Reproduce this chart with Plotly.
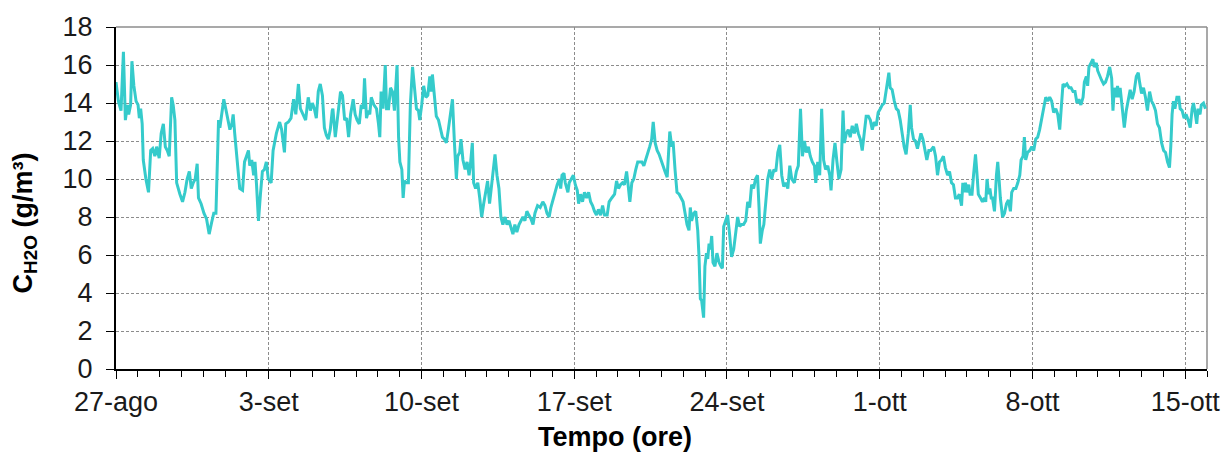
import datetime as dt
import plotly.graph_objects as go

# ---- data (days since 27-ago 00:00, concentration g/m3) ----
days = [
    0.00, 0.11, 0.23, 0.34, 0.43, 0.52, 0.58, 0.67, 0.73, 0.82, 0.92, 1.01, 1.07, 1.13, 1.20, 1.25, 1.37, 1.49,
    1.59, 1.68, 1.78, 1.86, 1.98, 2.07, 2.17, 2.26, 2.35, 2.44, 2.55, 2.62, 2.70, 2.78, 2.93, 3.05, 3.16, 3.26,
    3.36, 3.45, 3.54, 3.63, 3.72, 3.78, 3.90, 4.03, 4.15, 4.27, 4.38, 4.48, 4.58, 4.64, 4.70, 4.76, 4.85, 4.94,
    5.03, 5.12, 5.22, 5.31, 5.37, 5.44, 5.52, 5.61, 5.67, 5.80, 5.89, 5.98, 6.07, 6.13, 6.22, 6.31, 6.37, 6.44,
    6.53, 6.62, 6.71, 6.80, 6.89, 6.98, 7.11, 7.20, 7.35, 7.50, 7.59, 7.72, 7.78, 7.90, 8.02, 8.14, 8.24, 8.36,
    8.45, 8.57, 8.69, 8.81, 8.91, 9.00, 9.09, 9.18, 9.27, 9.36, 9.46, 9.55, 9.64, 9.73, 9.82, 9.91,
    9.94, 10.05, 10.17, 10.29, 10.38, 10.48, 10.57, 10.66, 10.75, 10.87, 10.96, 11.05, 11.15, 11.24, 11.33, 11.39,
    11.48, 11.57, 11.63, 11.70, 11.82, 11.94, 12.03, 12.09, 12.15, 12.24, 12.34, 12.40, 12.49, 12.58, 12.67, 12.76,
    12.88, 12.95, 13.01, 13.10, 13.16, 13.22, 13.31, 13.40, 13.49, 13.59, 13.68, 13.77, 13.86, 13.92, 14.01, 14.10,
    14.20, 14.29, 14.38, 14.44, 14.50, 14.59, 14.68, 14.78, 14.87, 14.96, 15.05, 15.14, 15.23, 15.32, 15.42, 15.51,
    15.60, 15.66, 15.75, 15.81, 15.90, 16.00, 16.09, 16.18, 16.24, 16.33, 16.39, 16.48, 16.58, 16.67, 16.76, 16.85,
    16.94, 17.03, 17.12, 17.22, 17.28, 17.37, 17.46, 17.55, 17.64, 17.73, 17.83, 17.92, 18.01, 18.10, 18.19, 18.28,
    18.37, 18.47, 18.56, 18.65, 18.74, 18.83, 18.92, 19.02, 19.11, 19.20, 19.32, 19.44, 19.56, 19.66, 19.75, 19.85,
    19.93, 20.04, 20.13, 20.22, 20.32, 20.38, 20.44, 20.53, 20.59, 20.65, 20.71, 20.77, 20.86, 20.96, 21.05, 21.14,
    21.20, 21.29, 21.38, 21.47, 21.57, 21.66, 21.75, 21.84, 21.93, 22.02, 22.11, 22.21, 22.30, 22.39, 22.51, 22.60,
    22.72, 22.85, 22.94, 23.03, 23.12, 23.21, 23.30, 23.40, 23.46, 23.55, 23.64, 23.73, 23.82, 23.91, 24.01, 24.10,
    24.19, 24.28, 24.37, 24.46, 24.55, 24.62, 24.71, 24.80, 24.89, 24.98, 25.07, 25.16, 25.26, 25.32, 25.38, 25.47,
    25.53, 25.62, 25.71, 25.81, 25.90, 25.99, 26.08, 26.17, 26.26, 26.32, 26.38, 26.48, 26.57, 26.66, 26.72, 26.78,
    26.84, 26.93, 26.99, 27.06, 27.12, 27.18, 27.24, 27.30, 27.36, 27.45, 27.54, 27.64, 27.73, 27.79, 27.85, 27.94,
    28.03, 28.12, 28.21, 28.31, 28.40, 28.49, 28.58, 28.67, 28.76, 28.86, 28.95, 29.04, 29.13, 29.22, 29.31, 29.40,
    29.47, 29.53, 29.62, 29.69,
    29.78, 29.87, 29.96, 30.05, 30.15, 30.24, 30.33, 30.42, 30.51, 30.60, 30.69, 30.79, 30.88, 30.97, 31.09, 31.18,
    31.27, 31.37, 31.46, 31.55, 31.64, 31.73, 31.82, 31.91, 32.01, 32.07, 32.16, 32.25, 32.34, 32.43, 32.52, 32.62,
    32.71, 32.77, 32.86, 32.95, 33.04, 33.13, 33.23, 33.32, 33.38, 33.47, 33.56, 33.65, 33.74, 33.84, 33.93, 34.02,
    34.11, 34.20, 34.29, 34.38, 34.48, 34.57, 34.66, 34.75, 34.84, 34.93, 35.03, 35.12, 35.21, 35.30, 35.36, 35.42,
    35.48, 35.57, 35.67, 35.76, 35.85, 35.94, 36.03, 36.12, 36.21, 36.31, 36.40, 36.46, 36.55, 36.64, 36.73, 36.82,
    36.89, 36.98, 37.07, 37.16, 37.25, 37.34, 37.47, 37.56, 37.65, 37.74, 37.83, 37.92, 38.01, 38.11, 38.20, 38.29,
    38.38, 38.47, 38.56, 38.65, 38.75, 38.81, 38.87, 38.93, 38.99, 39.08, 39.14, 39.23, 39.30, 39.39, 39.45, 39.52,
    39.62, 39.71, 39.80, 39.86, 39.92, 39.99, 40.05, 40.11, 40.17, 40.26, 40.35, 40.41, 40.47, 40.53, 40.63, 40.72,
    40.81, 40.90, 40.99, 41.05, 41.14, 41.24, 41.33, 41.42, 41.48, 41.57, 41.63, 41.69, 41.78, 41.88, 41.97, 42.06,
    42.15, 42.24, 42.33, 42.43, 42.52, 42.61, 42.70, 42.79, 42.88, 42.97, 43.07, 43.16, 43.25, 43.31, 43.40, 43.49,
    43.58, 43.68, 43.77, 43.86, 43.95, 44.04, 44.13, 44.22, 44.32, 44.38, 44.47, 44.53, 44.59, 44.68, 44.77, 44.83,
    44.93, 44.99, 45.08, 45.17, 45.26, 45.35, 45.44, 45.54, 45.63, 45.69, 45.75, 45.84, 45.90, 45.96, 46.02, 46.12,
    46.21, 46.30, 46.39, 46.48, 46.57, 46.66, 46.76, 46.85, 46.91, 47.00, 47.09, 47.18, 47.27, 47.37, 47.46, 47.55,
    47.64, 47.73, 47.82, 47.92, 48.01, 48.10, 48.19, 48.28, 48.34, 48.40, 48.46, 48.53, 48.62, 48.71, 48.77, 48.86,
    48.95, 49.04, 49.14, 49.23, 49.32, 49.38, 49.44, 49.53, 49.59, 49.68, 49.74, 49.84, 49.93,
]
conc = [
    15.1, 14.1, 13.6, 16.7, 13.1, 13.9, 13.4, 13.9, 16.2, 14.9, 14.1, 13.9, 13.2, 13.7, 12.9, 11.0, 10.0, 9.3,
    11.5, 11.6, 11.2, 11.7, 11.1, 12.4, 12.9, 11.7, 11.5, 11.2, 14.3, 13.9, 13.1, 9.8, 9.2, 8.8, 9.3, 10.0,
    10.4, 9.5, 9.8, 10.0, 10.8, 9.0, 8.7, 8.2, 7.9, 7.1, 7.7, 8.2, 8.2, 11.2, 13.1, 12.7, 13.4, 14.2,
    13.7, 13.2, 12.6, 12.9, 13.4, 12.4, 11.5, 10.2, 9.5, 9.4, 10.9, 11.2, 11.5, 10.7, 11.0, 10.2, 10.9, 9.7,
    7.8, 9.2, 10.4, 10.5, 10.9, 10.0, 9.8, 11.5, 12.4, 13.0, 12.6, 11.4, 12.9, 13.0, 13.2, 14.2, 13.4, 15.0,
    13.7, 13.4, 13.1, 14.3, 13.6, 14.0, 13.7, 13.2, 14.6, 15.0, 14.4, 12.7, 12.3, 12.1, 12.6, 13.6,
    13.7, 12.2, 13.4, 14.6, 14.4, 13.1, 13.2, 12.2, 13.4, 14.2, 13.4, 13.1, 12.9, 13.9, 13.7, 15.3,
    13.2, 13.6, 13.4, 14.3, 13.9, 13.7, 12.9, 12.2, 14.6, 13.7, 16.0, 13.7, 13.7, 14.8, 14.6, 13.6,
    16.0, 12.2, 10.9, 10.5, 9.0, 9.9, 9.8, 9.8, 13.9, 15.9, 14.8, 13.7, 13.6, 13.1, 13.9, 14.9,
    14.3, 14.4, 15.4, 14.6, 15.5, 14.3, 13.3, 13.1, 12.6, 12.2, 12.1, 11.9, 12.6, 13.4, 14.2, 11.9,
    10.0, 11.2, 11.4, 12.1, 11.0, 10.5, 10.9, 10.2, 10.7, 11.9, 9.8, 9.5, 9.8, 9.0, 8.0, 8.7,
    9.3, 9.9, 8.7, 9.7, 10.5, 11.3, 10.2, 9.5, 8.0, 7.6, 8.0, 7.6, 7.8, 7.5, 7.1, 7.6,
    7.2, 7.6, 7.8, 8.0, 7.8, 8.3, 8.1, 7.9, 7.6, 8.2, 8.6, 8.5, 8.8, 8.6, 8.2, 8.0,
    8.5, 9.0, 9.4, 9.7, 10.0, 9.5, 10.2, 10.3, 9.8, 9.5, 9.3, 9.8, 10.0, 10.2, 9.7, 9.4,
    8.7, 9.2, 8.8, 9.3, 9.0, 9.3, 8.8, 8.6, 8.3, 8.1, 8.4, 8.1, 8.6, 8.1, 8.1, 8.8,
    9.0, 9.2, 9.9, 9.5, 9.7, 9.8, 9.7, 10.4, 9.8, 8.8, 9.8, 10.0, 10.5, 10.9, 10.9, 10.9,
    10.7, 11.0, 11.4, 11.7, 12.1, 13.0, 11.9, 11.5, 11.3, 11.0, 10.6, 10.4, 10.1, 11.5, 12.5, 11.7,
    12.0, 10.5, 9.3, 9.2, 9.0, 8.8, 8.2, 7.6, 7.3, 8.5, 7.8, 8.2, 8.3, 7.3, 5.9, 3.7,
    3.6, 2.7, 5.4, 6.1, 5.8, 6.6, 6.3, 7.0, 5.6, 5.4, 6.1, 5.6, 5.4, 5.3, 7.5, 7.8,
    8.1, 7.1, 5.9, 6.3, 7.3, 8.0, 7.5, 7.6, 7.6, 7.8, 8.8, 8.5, 9.7, 9.5, 10.0, 10.2,
    8.5, 6.6, 7.3, 7.6,
    8.8, 10.0, 10.5, 10.0, 10.5, 10.4, 11.4, 11.8, 10.2, 9.6, 9.8, 9.5, 10.7, 10.0, 9.8, 10.4,
    10.7, 13.7, 11.2, 12.0, 11.4, 11.7, 11.2, 10.9, 10.7, 9.8, 10.9, 10.2, 13.7, 11.0, 10.5, 10.7,
    10.2, 9.4, 11.0, 11.9, 10.9, 10.0, 10.5, 13.6, 11.9, 12.4, 12.6, 12.2, 12.8, 12.4, 12.9, 12.4,
    12.1, 11.5, 12.4, 13.3, 13.3, 13.1, 12.6, 13.0, 12.8, 13.5, 13.7, 13.9, 14.0, 14.8, 15.1, 15.6,
    14.8, 14.7, 14.1, 13.7, 13.6, 13.1, 12.4, 11.7, 11.3, 12.4, 13.9, 12.7, 12.1, 12.0, 11.6, 12.1,
    12.4, 12.1, 11.5, 11.0, 11.5, 11.5, 11.7, 11.2, 10.2, 10.9, 11.0, 11.2, 10.6, 10.2, 10.4, 9.8,
    9.7, 9.0, 9.0, 9.2, 8.6, 9.8, 9.3, 9.8, 9.3, 9.7, 9.2, 9.2, 10.2, 11.3, 10.4, 9.2,
    9.0, 8.8, 9.0, 8.8, 10.0, 9.2, 9.5, 9.0, 9.0, 8.3, 10.2, 10.9, 10.0, 9.0, 8.0, 8.2,
    8.7, 8.9, 8.3, 9.3, 9.5, 9.5, 9.8, 10.2, 11.0, 11.2, 12.2, 11.0, 11.4, 11.5, 11.7, 11.5,
    12.1, 12.2, 12.6, 13.2, 13.7, 14.3, 14.1, 14.3, 14.1, 13.5, 13.7, 13.4, 12.6, 13.4, 15.0, 14.9,
    15.0, 14.8, 14.8, 14.6, 14.6, 14.0, 14.2, 13.9, 14.3, 15.1, 15.4, 14.9, 15.9, 16.1, 16.3, 15.9,
    16.1, 15.7, 15.4, 15.2, 15.0, 15.1, 15.4, 15.9, 15.3, 13.6, 14.8, 14.3, 14.9, 14.3, 14.8, 13.6,
    12.7, 13.6, 14.2, 14.7, 14.2, 14.6, 15.4, 15.6, 15.1, 14.5, 14.8, 14.3, 13.6, 14.6, 14.1, 13.9,
    13.6, 12.9, 12.7, 11.9, 11.5, 11.4, 10.9, 10.6, 11.7, 13.4, 14.1, 13.7, 14.3, 14.3, 13.7, 13.6,
    13.2, 13.4, 13.1, 12.7, 13.7, 14.0, 13.6, 12.9, 13.7, 13.4, 13.9, 14.0, 13.7,
]

tick_days = [0, 7, 14, 21, 28, 35, 42, 49]
tick_labels = ["27-ago", "3-set", "10-set", "17-set", "24-set", "1-ott", "8-ott", "15-ott"]
y_ticks = [0, 2, 4, 6, 8, 10, 12, 14, 16, 18]

base = dt.datetime(2012, 8, 27)
x = [base + dt.timedelta(days=d) for d in days]
tickvals = [base + dt.timedelta(days=d) for d in tick_days]
x_end = base + dt.timedelta(days=50)

FONT = "Liberation Sans, Arial, sans-serif"
LINE = "#35CBCB"
TICK_SIZE = 27
TITLE_SIZE = 27

fig = go.Figure()
fig.add_trace(go.Scatter(x=x, y=conc, mode="lines",
                         line=dict(color=LINE, width=3), hoverinfo="skip", showlegend=False))

fig.update_layout(
    width=1232, height=459,
    margin=dict(l=116, r=24, t=17, b=90),
    paper_bgcolor="white", plot_bgcolor="white",
    font=dict(family=FONT, size=TICK_SIZE, color="#1a1a1a"),
    showlegend=False,
)

fig.update_xaxes(
    type="date", range=[base, x_end],
    tickvals=tickvals, ticktext=tick_labels,
    ticks="outside", ticklen=8, tickwidth=1, tickcolor="black",
    showline=True, linecolor="black", linewidth=2,
    showgrid=True, gridcolor="#8c8c8c", gridwidth=1, griddash="3px,2px",
    zeroline=False,
    tickfont=dict(family=FONT, size=TICK_SIZE, color="#1a1a1a"),
    minor=dict(dtick=86400000, ticks="outside", ticklen=6, tickcolor="black", showgrid=False),
)
fig.update_yaxes(
    range=[0, 18], tickvals=y_ticks,
    ticks="outside", ticklen=8, tickwidth=1, tickcolor="black",
    showline=True, linecolor="black", linewidth=2,
    showgrid=True, gridcolor="#8c8c8c", gridwidth=1, griddash="3px,2px",
    zeroline=False, ticklabelstandoff=8,
    tickfont=dict(family=FONT, size=TICK_SIZE, color="#1a1a1a"),
)

# frame top/right
fig.add_shape(type="line", xref="paper", yref="paper", x0=0, x1=1, y0=1, y1=1,
              line=dict(color="#8c8c8c", width=1.5), layer="below")
fig.add_shape(type="line", xref="paper", yref="paper", x0=1, x1=1, y0=0, y1=1,
              line=dict(color="#8c8c8c", width=1.5), layer="below")

fig.add_annotation(text="<b>Tempo (ore)</b>", xref="paper", yref="paper",
                   x=0.457, y=-0.2, xanchor="center", yanchor="middle", showarrow=False,
                   font=dict(family=FONT, size=TITLE_SIZE, color="black"))
fig.add_annotation(text="<b>C<sub>H2O</sub> (g/m³)</b>", xref="paper", yref="paper",
                   x=-0.0833, y=0.426, xanchor="center", yanchor="middle", showarrow=False,
                   textangle=-90, font=dict(family=FONT, size=TITLE_SIZE, color="black"))

fig.write_html("out.html")
